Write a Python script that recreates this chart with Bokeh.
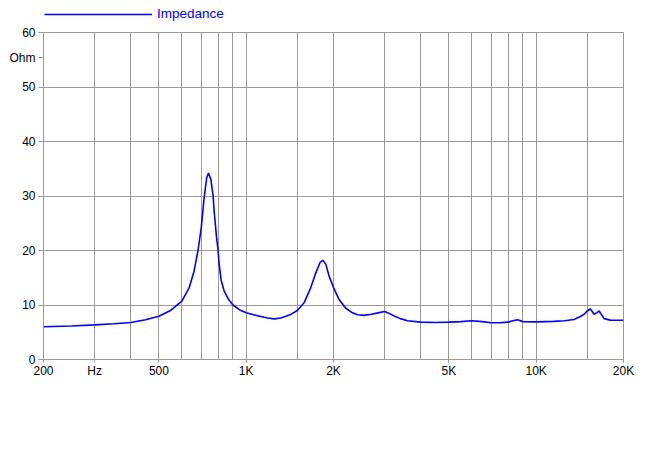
from bokeh.plotting import figure
from bokeh.layouts import column
from bokeh.models import FixedTicker, Legend, LegendItem, Range1d
from bokeh.embed import file_html
from bokeh.resources import INLINE

# Impedance curve (Hz, Ohm)
freq_hz = [200, 250, 300, 350, 400, 450, 500, 550, 600, 636, 661, 682, 700, 716,
           731, 741, 755, 769, 775, 790, 800, 806, 820, 839, 870, 900, 950,
           1000, 1060, 1122, 1185, 1250, 1316, 1425, 1500, 1583, 1670, 1738, 1798,
           1837, 1881, 1931, 2000, 2091, 2205, 2326, 2420, 2550, 2700, 2850, 3000,
           3100, 3237, 3400, 3600, 4000, 4500, 5000, 5500, 6000, 6500, 7000, 7500,
           8000, 8300, 8617, 9000, 10000, 11500, 12500, 13500, 14200, 14630, 15000,
           15350, 15600, 15840, 16200, 16480, 16800, 17150, 18000, 20000]
impedance_ohm = [6.0, 6.15, 6.35, 6.55, 6.8, 7.3, 7.95, 9.05, 10.7, 13.2, 16.2, 20.0,
                 24.2, 29.7, 33.4, 34.2, 33.1, 30.0, 27.3, 22.5, 20.0, 17.6,
                 14.5, 12.6, 11.0, 10.0, 9.1, 8.57, 8.2, 7.9, 7.6, 7.45, 7.6, 8.27, 9.0,
                 10.4, 13.2, 15.9, 17.8, 18.2, 17.5, 15.3, 13.2, 11.0, 9.4, 8.57, 8.2,
                 8.1, 8.3, 8.55, 8.8, 8.5, 8.0, 7.5, 7.1, 6.85, 6.8, 6.85, 6.95, 7.1,
                 6.95, 6.75, 6.75, 6.85, 7.1, 7.3, 6.95, 6.9, 7.0, 7.1, 7.35, 7.9, 8.3,
                 8.9, 9.3, 8.8, 8.3, 8.6, 8.9, 8.2, 7.5, 7.22, 7.2]

x_label_ticks = [200, 300, 500, 1000, 2000, 5000, 10000, 20000]
x_label_texts = ["200", "Hz", "500", "1K", "2K", "5K", "10K", "20K"]
x_grid_ticks = [300, 400, 500, 600, 700, 800, 900, 1000, 1500, 2000, 3000, 4000,
                5000, 6000, 7000, 8000, 9000, 10000, 15000, 20000]
y_grid_ticks = [0, 10, 20, 30, 40, 50, 60]
y_label_ticks = [0, 10, 20, 30, 40, 50, 55.4, 60]
y_label_texts = ["0", "10", "20", "30", "40", "50", "Ohm", "60"]
series_name = "Impedance"

FONT = "Liberation Sans"
GRID = "#9a9a9a"
BLUE = "#0000ff"

p = figure(width=645, height=441, x_axis_type="log",
           x_range=Range1d(200, 20000), y_range=Range1d(0, 60),
           output_backend="svg", toolbar_location=None,
           min_border_left=43, min_border_right=22, min_border_top=8,
           min_border_bottom=106)
p.outline_line_color = GRID
p.background_fill_color = "white"
p.border_fill_color = "white"

p.line(freq_hz, impedance_ohm, line_color=BLUE, line_width=1.6)

# grids
p.xgrid.ticker = FixedTicker(ticks=x_grid_ticks)
p.ygrid.ticker = FixedTicker(ticks=y_grid_ticks)
for g in (p.xgrid[0], p.ygrid[0]):
    g.grid_line_color = GRID
    g.grid_line_width = 1
    g.grid_line_alpha = 1.0

# axes
xa = p.xaxis[0]
xa.ticker = FixedTicker(ticks=x_label_ticks)
xa.major_label_overrides = {t: s for t, s in zip(x_label_ticks, x_label_texts)}
ya = p.yaxis[0]
ya.ticker = FixedTicker(ticks=y_label_ticks)
ya.major_label_overrides = {t: s for t, s in zip(y_label_ticks, y_label_texts)}
for a in (xa, ya):
    a.axis_line_color = GRID
    a.major_tick_line_color = GRID
    a.minor_tick_line_color = None
    a.major_tick_in = 0
    a.major_label_text_font = FONT
    a.major_label_text_font_size = "12px"
    a.major_label_text_color = "black"
xa.major_tick_out = 3
xa.major_label_standoff = 1
ya.major_tick_out = 5
ya.major_label_standoff = 3

# legend strip above the chart
pl = figure(width=645, height=24, x_range=Range1d(0, 1), y_range=Range1d(0, 1),
            x_axis_location=None, y_axis_location=None,
            output_backend="svg", toolbar_location=None, min_border=0)
pl.outline_line_color = None
pl.grid.visible = False
rl = pl.line(freq_hz, impedance_ohm, line_color=BLUE, line_width=1.6)
legend = Legend(items=[LegendItem(label=series_name, renderers=[rl])],
                location=(1, 3), orientation="horizontal",
                glyph_width=108, glyph_height=14, label_height=14,
                label_standoff=5, padding=0, margin=0, spacing=0,
                label_text_font=FONT, label_text_font_size="13.5px",
                label_text_color=BLUE, border_line_color=None,
                background_fill_alpha=0)
pl.add_layout(legend)

open("out.html", "w").write(file_html(column(pl, p, spacing=0), INLINE))
